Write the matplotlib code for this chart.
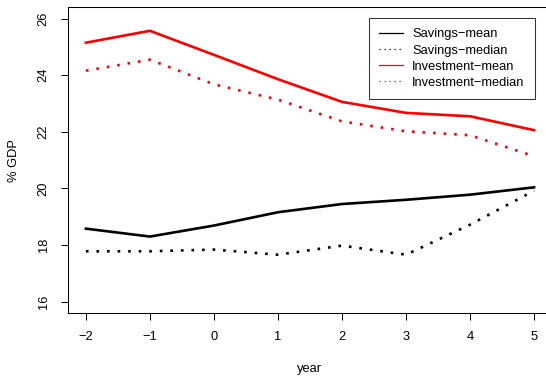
import matplotlib
matplotlib.use("Agg")
import matplotlib.pyplot as plt
from matplotlib.lines import Line2D

plt.rcParams['font.family'] = ['Liberation Sans', 'DejaVu Sans']

years = [-2, -1, 0, 1, 2, 3, 4, 5]
savings_mean = [18.58, 18.30, 18.69, 19.16, 19.45, 19.60, 19.78, 20.04]
savings_median = [17.78, 17.78, 17.84, 17.66, 17.98, 17.66, 18.72, 19.92]
invest_mean = [25.15, 25.57, 24.72, 23.86, 23.06, 22.67, 22.55, 22.06]
invest_median = [24.16, 24.55, 23.68, 23.14, 22.37, 22.02, 21.88, 21.14]
labels = ["Savings\u2212mean", "Savings\u2212median",
          "Investment\u2212mean", "Investment\u2212median"]

W, H = 546, 376
fs = 9.3
fig = plt.figure(figsize=(W / 100, H / 100), dpi=100)
# axes box: left 68px, top 7px, bottom 313px, right runs past the image edge
ax = fig.add_axes([68 / W, (H - 313) / H, (552 - 68) / W, (313 - 7.3) / H])

lw = 1.9
ax.plot(years, savings_mean, color="black", lw=lw)
ax.plot(years, savings_median, color="black", lw=lw, ls=(0, (1, 3)))
ax.plot(years, invest_mean, color="red", lw=lw)
ax.plot(years, invest_median, color="red", lw=lw, ls=(0, (1, 3)))

ax.set_xlim(-2.28, 5.28)
ax.set_ylim(15.6, 26.4)
ax.set_xticks(years)
ax.set_xticklabels(["\u22122", "\u22121", "0", "1", "2", "3", "4", "5"])
ax.set_yticks([16, 18, 20, 22, 24, 26])
ax.set_yticklabels(["16", "18", "20", "22", "24", "26"], rotation=90, va="center")
ax.tick_params(direction="out", length=5.2, width=0.75, labelsize=fs, pad=8)
for s in ax.spines.values():
    s.set_linewidth(0.75)

ax.set_xlabel("year", fontsize=fs, labelpad=14)
ax.set_ylabel("% GDP", fontsize=fs, labelpad=13)

handles = [Line2D([], [], color="black", lw=0.9),
           Line2D([], [], color="black", lw=0.9, ls=(0, (1, 3))),
           Line2D([], [], color="red", lw=0.9),
           Line2D([], [], color="red", lw=0.9, ls=(0, (1, 3)))]
leg = ax.legend(handles, labels, loc="upper right",
                bbox_to_anchor=(535 / W, 1 - 18 / H), bbox_transform=fig.transFigure,
                fontsize=fs, frameon=True, fancybox=False, borderaxespad=0,
                handlelength=1.8, handletextpad=0.75, labelspacing=0.32,
                borderpad=0.8)
leg.get_frame().set_edgecolor("black")
leg.get_frame().set_linewidth(0.75)

fig.savefig("out.png", dpi=100)
